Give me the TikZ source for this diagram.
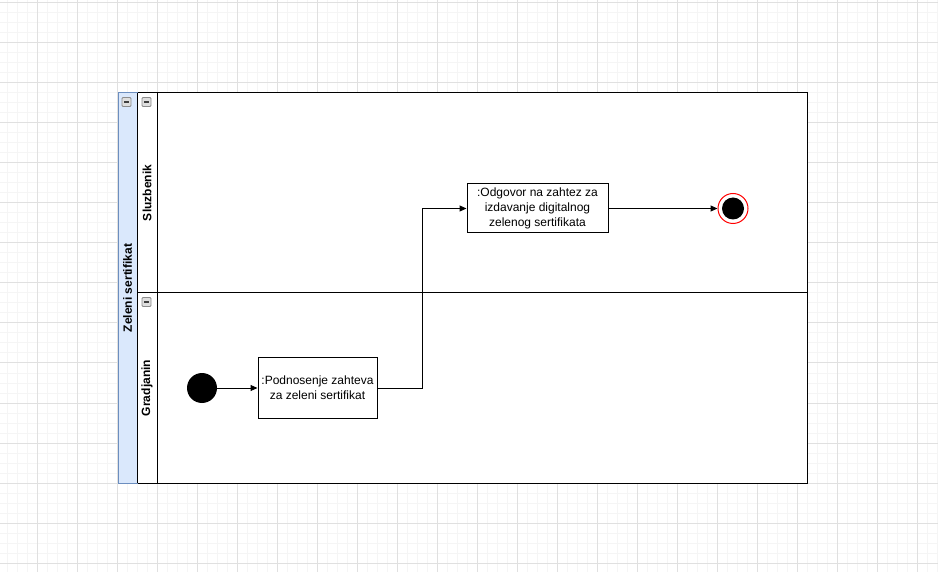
\documentclass[tikz,border=0pt]{standalone}
\usepackage{fontspec}
\setmainfont{Liberation Sans}
\usepackage{xcolor}
\usetikzlibrary{arrows.meta}
\usetikzlibrary{positioning}

\definecolor{poolfill}{HTML}{DAE8FC}
\definecolor{poolline}{HTML}{6C8EBF}
\definecolor{gridminor}{HTML}{F5F5F5}
\definecolor{gridmajor}{HTML}{E0E0E0}

\tikzset{
  action/.style={draw, fill=white, line width=1pt, align=center, inner sep=2pt,
    font=\fontsize{12}{15}\selectfont},
  startstate/.style={circle, fill=black, minimum size=30pt, inner sep=0pt},
  endstate/.style={circle, draw=red, fill=white, line width=1pt, minimum size=30pt, inner sep=0pt},
  lanelabel/.style={rotate=90, font=\fontsize{12}{14}\selectfont\bfseries},
  collapse/.style={draw=gray!90, fill=gray!25, rounded corners=1pt, minimum width=9pt,
    minimum height=9pt, inner sep=0pt, line width=0.8pt},
  flow/.style={-{Triangle[length=7pt, width=6pt]}, line width=1pt},
}

\newcommand{\minusbox}[2]{%
  \node [collapse] at (#1, #2) {};
  \draw [line width=1.5pt, black!75] (#1-2.5, #2) -- (#1+2.5, #2);}

\begin{document}
\begin{tikzpicture}[x=1pt, y=-1pt]

      \useasboundingbox (0, 0) rectangle (938, 572);

      % background grid
      \foreach \gx in {7, 17, ..., 937}
        \draw [gridminor, line width=1pt] (\gx, 0) -- (\gx, 572);
      \foreach \gy in {3, 13, ..., 571}
        \draw [gridminor, line width=1pt] (0, \gy) -- (938, \gy);
      \foreach \gx in {37, 77, ..., 917}
        \draw [gridmajor, line width=1pt] (\gx, 0) -- (\gx, 572);
      \foreach \gy in {3, 43, ..., 563}
        \draw [gridmajor, line width=1pt] (0, \gy) -- (938, \gy);

      % pool and lanes
      \fill [white] (137, 93) rectangle (807, 483);
      \draw [line width=1pt] (137, 93) rectangle (807, 483);
      \draw [line width=1pt] (157, 93) -- (157, 483);
      \draw [line width=1pt] (137, 293) -- (807, 293);
      \draw [poolline, fill=poolfill, line width=1pt] (118, 93) rectangle (137, 483);
      \draw [line width=1pt] (137, 93) -- (137, 483);

      \node [lanelabel] (pool) at (127.5, 288) {Zeleni sertifikat};
      \node [lanelabel] (sluzbenik) at (147, 193) {Sluzbenik};
      \node [lanelabel] (gradjanin) at (147, 388) {Gradjanin};

      \minusbox{126.5}{102}
      \minusbox{146.5}{102}
      \minusbox{146.5}{302}

      % activity
      \node [startstate] (pocetak) at (202, 388) {};
      \node [action, minimum width=119pt, minimum height=60pt] (podnosenje)
        at (317.5, 388) {:Podnosenje zahteva\\za zeleni sertifikat};
      \node [action, minimum width=141pt, minimum height=49pt] (odgovor)
        at (537.5, 208.5) {:Odgovor na zahtez za\\izdavanje digitalnog\\zelenog sertifikata};
      \node [endstate] (kraj) at (733, 208.5) {};
      \node [circle, fill=black, minimum size=22pt, inner sep=0pt] (krajtacka) at (kraj) {};

      \coordinate (lom) at (422, 388);

      \draw [flow] (pocetak) -- (podnosenje);
      \draw [flow] (podnosenje.east) -- (lom) |- (odgovor.west);
      \draw [flow] (odgovor) -- (kraj);

    \end{tikzpicture}
\end{document}
